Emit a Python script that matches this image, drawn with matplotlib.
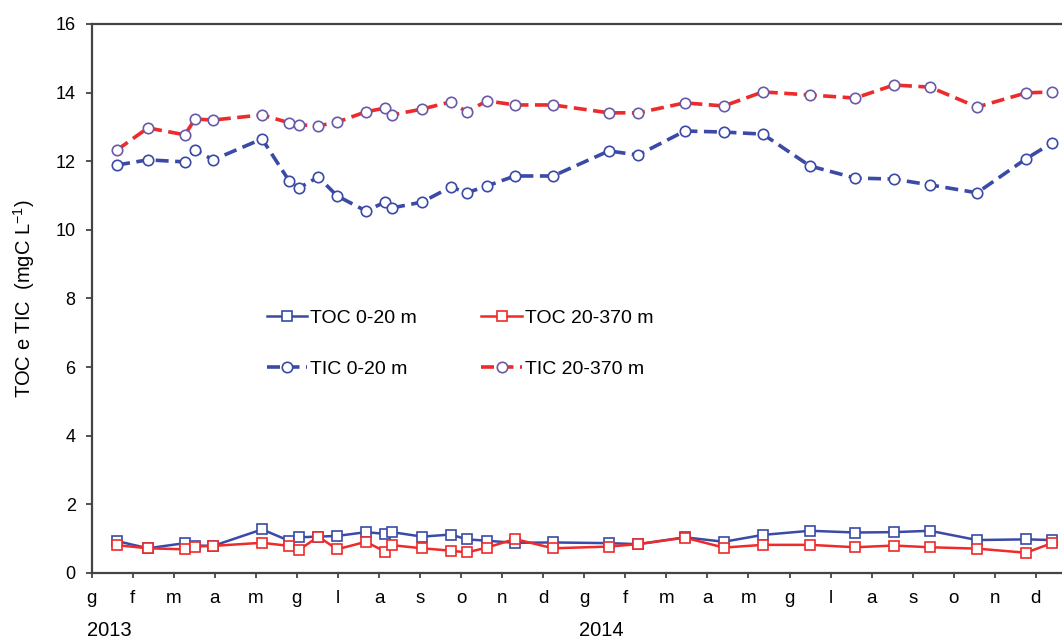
import matplotlib.pyplot as plt
from matplotlib.transforms import blended_transform_factory

plt.rcParams['font.family'] = ['Liberation Sans', 'DejaVu Sans']

# posizione dei campionamenti in mesi dall'inizio di gennaio 2013
mesi_camp = [0.62, 1.37, 2.27, 2.52, 2.96, 4.15, 4.81, 5.05, 5.52, 5.98,
             6.68, 7.15, 7.32, 8.05, 8.75, 9.14, 9.63, 10.31, 11.24, 12.6,
             13.31, 14.45, 15.40, 16.35, 17.5, 18.6, 19.54, 20.42, 21.57, 22.76,
             23.39]

toc_0_20 = [0.93, 0.72, 0.87, 0.80, 0.79, 1.27, 0.94, 1.04, 1.06, 1.08,
            1.19, 1.14, 1.19, 1.06, 1.12, 0.98, 0.94, 0.88, 0.89, 0.87,
            0.84, 1.04, 0.91, 1.11, 1.23, 1.18, 1.19, 1.23, 0.96, 0.98,
            0.96]
toc_20_370 = [0.81, 0.72, 0.69, 0.77, 0.79, 0.88, 0.79, 0.67, 1.06, 0.69,
              0.91, 0.62, 0.81, 0.72, 0.65, 0.60, 0.74, 0.99, 0.72, 0.77,
              0.84, 1.03, 0.74, 0.82, 0.82, 0.75, 0.80, 0.75, 0.71, 0.59,
              0.87]
tic_0_20 = [11.89, 12.04, 11.98, 12.33, 12.04, 12.65, 11.43, 11.22, 11.54, 10.99,
            10.55, 10.81, 10.64, 10.81, 11.25, 11.08, 11.28, 11.57, 11.57, 12.30,
            12.18, 12.88, 12.85, 12.79, 11.86, 11.51, 11.48, 11.31, 11.08, 12.07,
            12.53]
tic_20_370 = [12.33, 12.97, 12.77, 13.23, 13.20, 13.35, 13.12, 13.06, 13.03, 13.14,
              13.44, 13.55, 13.35, 13.52, 13.73, 13.44, 13.76, 13.64, 13.64, 13.41,
              13.41, 13.70, 13.61, 14.02, 13.93, 13.84, 14.22, 14.16, 13.58, 13.99,
              14.02]

mesi_lbl = ['g', 'f', 'm', 'a', 'm', 'g', 'l', 'a', 's', 'o', 'n', 'd',
            'g', 'f', 'm', 'a', 'm', 'g', 'l', 'a', 's', 'o', 'n', 'd']
anni = ['2013', '2014']

blu = '#3a4aa6'
rosso = '#ee2a2a'
viola = '#6a5aa8'

fig = plt.figure(figsize=(10.62, 6.39), dpi=100, facecolor='w')
ax = fig.add_axes([0.0863, 0.1033, 0.9277, 0.8592])

ax.plot(mesi_camp, toc_0_20, color=blu, lw=1.8, marker='s', ms=7.5,
        mfc='white', mec=blu, mew=1.2, label='TOC 0-20 m', zorder=3)
ax.plot(mesi_camp, toc_20_370, color=rosso, lw=1.8, marker='s', ms=7.5,
        mfc='white', mec=rosso, mew=1.2, label='TOC 20-370 m', zorder=4)
ax.plot(mesi_camp, tic_0_20, color=blu, lw=2.6, ls=(0, (3.6, 1.8)), marker='o', ms=7.5,
        mfc='white', mec=blu, mew=1.2, label='TIC 0-20 m', zorder=3)
ax.plot(mesi_camp, tic_20_370, color=rosso, lw=2.6, ls=(0, (3.6, 1.8)), marker='o', ms=7.5,
        mfc='white', mec=viola, mew=1.2, label='TIC 20-370 m', zorder=3)

ax.set_xlim(0, 24)
ax.set_ylim(0, 16)
ax.set_yticks(range(0, 17, 2))
ax.set_xticks(range(len(mesi_lbl)))
ax.set_xticklabels(mesi_lbl)

for s in ['left', 'bottom', 'top', 'right']:
    ax.spines[s].set_color('#444444')
    ax.spines[s].set_linewidth(1.6)

ax.tick_params(axis='y', direction='out', length=4.5, width=1.3, color='#444444',
               labelsize=13, pad=7)
ax.tick_params(axis='x', direction='out', length=3.5, width=1.3, color='#444444',
               labelsize=13.5, pad=9)

ax.set_ylabel(r'TOC e TIC  (mgC L$^{\mathregular{-1}}$)', fontsize=14.5, labelpad=13)

trans = blended_transform_factory(ax.transData, ax.transAxes)
for i, a in enumerate(anni):
    ax.text(12 * i - 0.12, -0.104, a, transform=trans, ha='left', va='center',
            fontsize=14.5)

h, l = ax.get_legend_handles_labels()
ordine = [0, 2, 1, 3]
ax.legend([h[i] for i in ordine], [l[i] for i in ordine], ncol=2, frameon=False,
          loc='center', bbox_to_anchor=(0.374, 0.418), fontsize=14,
          handlelength=2.1, handletextpad=0.15, columnspacing=3.3,
          labelspacing=1.7, borderpad=0)

fig.savefig('out.png', dpi=100)
